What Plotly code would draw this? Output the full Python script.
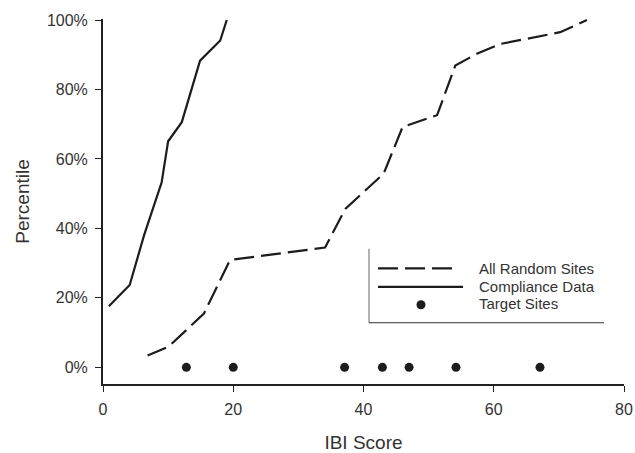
import plotly.graph_objects as go

# ---- data ----
random_x = [6.85, 10.1, 15.5, 19.5, 34.1, 37.2, 43.1, 46.0, 51.3, 54.1, 57.4, 61.0, 70.2, 74.3]
random_y = [3.4, 6.0, 15.5, 30.9, 34.5, 45.6, 55.8, 69.2, 72.6, 86.9, 90.3, 93.1, 96.5, 100.0]

compliance_x = [0.9, 4.1, 6.3, 9.0, 10.0, 12.1, 14.9, 18.0, 19.0]
compliance_y = [17.6, 23.7, 38.0, 53.2, 65.1, 70.6, 88.3, 94.1, 100.0]

target_x = [12.8, 20.0, 37.1, 42.9, 47.0, 54.2, 67.1]
target_y = [0, 0, 0, 0, 0, 0, 0]

y_ticks = [0, 20, 40, 60, 80, 100]
y_ticklabels = ["0%", "20%", "40%", "60%", "80%", "100%"]
x_ticks = [0, 20, 40, 60, 80]

legend_names = ["All Random Sites", "Compliance Data", "Target Sites"]

FONT = "Liberation Sans, Arial, sans-serif"
INK = "#1c1c1c"

fig = go.Figure()
fig.add_trace(go.Scatter(x=random_x, y=random_y, mode="lines", name=legend_names[0],
                         line=dict(color=INK, width=2.2, dash="20px,7px")))
fig.add_trace(go.Scatter(x=compliance_x, y=compliance_y, mode="lines", name=legend_names[1],
                         line=dict(color=INK, width=2.2)))
fig.add_trace(go.Scatter(x=target_x, y=target_y, mode="markers", name=legend_names[2],
                         marker=dict(color=INK, size=9), cliponaxis=False))

W, H = 635, 453
L, R, T, B = 103, 11, 19, 68.7
pw, ph = W - L - R, H - T - B
def px(x):
    return (x - L) / pw
def py(y):
    return (H - B - y) / ph

shapes = [
    dict(type="line", xref="paper", yref="paper", x0=px(369), x1=px(369), y0=py(249), y1=py(323),
         line=dict(color="#666", width=1)),
    dict(type="line", xref="paper", yref="paper", x0=px(369), x1=px(604), y0=py(323), y1=py(323),
         line=dict(color="#333", width=1)),
    dict(type="line", xref="paper", yref="paper", x0=px(378), x1=px(454), y0=py(268.5), y1=py(268.5),
         line=dict(color=INK, width=2.2, dash="20px,7px")),
    dict(type="line", xref="paper", yref="paper", x0=px(378), x1=px(463), y0=py(287), y1=py(287),
         line=dict(color=INK, width=2.2)),
    dict(type="circle", xref="paper", yref="paper", x0=px(416.5), x1=px(425.5), y0=py(300.5), y1=py(309.5),
         fillcolor=INK, line=dict(color=INK, width=0)),
]
annotations = []
for name, yy in zip(legend_names, [269, 287, 304]):
    annotations.append(dict(text=name, xref="paper", yref="paper", x=px(477), y=py(yy),
                            xanchor="left", yanchor="middle", showarrow=False,
                            font=dict(family=FONT, size=15, color="#333")))

fig.update_layout(
    width=W, height=H,
    margin=dict(l=L, r=R, t=T, b=B),
    paper_bgcolor="white", plot_bgcolor="white",
    showlegend=False,
    font=dict(family=FONT, size=16, color="#333"),
    shapes=shapes, annotations=annotations,
)
fig.update_xaxes(range=[0, 80], tickvals=x_ticks, showgrid=False, zeroline=False, automargin=False,
                 showline=True, linecolor="#222", linewidth=2, ticks="outside", ticklen=6,
                 tickcolor="#222", tickfont=dict(size=16), ticklabelstandoff=4,
                 title=dict(text="IBI Score", font=dict(size=19), standoff=18))
fig.update_yaxes(range=[-4.8, 100.3], tickvals=y_ticks, ticktext=y_ticklabels, showgrid=False,
                 zeroline=False, showline=True, linecolor="#222", linewidth=2, ticks="outside",
                 ticklen=6, tickcolor="#222", tickfont=dict(size=16), automargin=False,
                 ticklabelstandoff=4,
                 title=dict(text="Percentile", font=dict(size=19), standoff=12))

fig.write_html("out.html", config={"displayModeBar": False},
               post_script="document.body.style.margin='0';document.body.style.overflow='hidden';")
